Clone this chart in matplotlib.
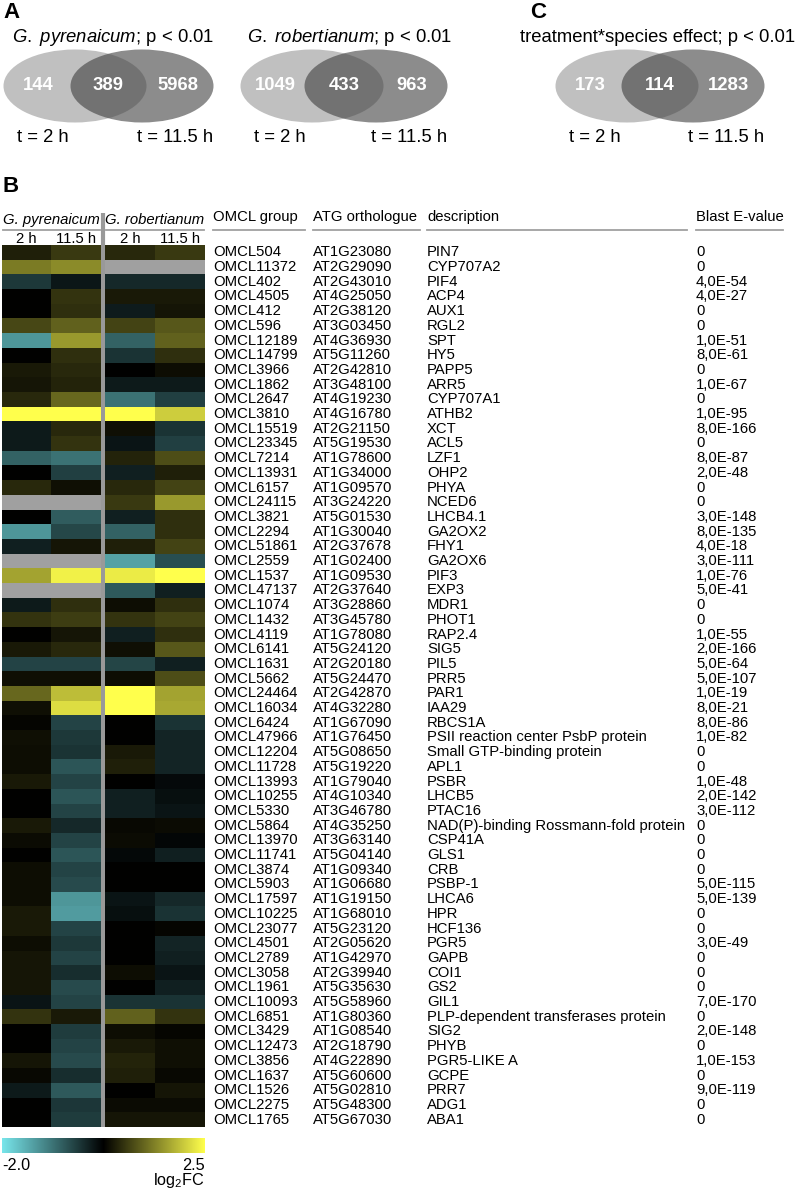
import numpy as np
import matplotlib
matplotlib.use("Agg")
import matplotlib.pyplot as plt
from matplotlib.colors import LinearSegmentedColormap, TwoSlopeNorm
from matplotlib.patches import Ellipse
from matplotlib.transforms import blended_transform_factory

plt.rcParams['font.family'] = ['Liberation Sans', 'DejaVu Sans']
plt.rcParams['mathtext.fontset'] = 'custom'
plt.rcParams['mathtext.rm'] = 'Liberation Sans'
plt.rcParams['mathtext.it'] = 'Liberation Sans:italic'

nan = np.nan

# ---- panel A / C: Venn counts ----
venn_titles = [r'$\it{G.\ pyrenaicum}$; p < 0.01',
               r'$\it{G.\ robertianum}$; p < 0.01',
               'treatment*species effect; p < 0.01']
venn_counts = [(144, 389, 5968), (1049, 433, 963), (173, 114, 1283)]
venn_sets = ['t = 2 h', 't = 11.5 h']

# ---- panel B: table ----
omcl = ['OMCL504', 'OMCL11372', 'OMCL402', 'OMCL4505', 'OMCL412', 'OMCL596', 'OMCL12189',
        'OMCL14799', 'OMCL3966', 'OMCL1862', 'OMCL2647', 'OMCL3810', 'OMCL15519', 'OMCL23345',
        'OMCL7214', 'OMCL13931', 'OMCL6157', 'OMCL24115', 'OMCL3821', 'OMCL2294', 'OMCL51861',
        'OMCL2559', 'OMCL1537', 'OMCL47137', 'OMCL1074', 'OMCL1432', 'OMCL4119', 'OMCL6141',
        'OMCL1631', 'OMCL5662', 'OMCL24464', 'OMCL16034', 'OMCL6424', 'OMCL47966', 'OMCL12204',
        'OMCL11728', 'OMCL13993', 'OMCL10255', 'OMCL5330', 'OMCL5864', 'OMCL13970', 'OMCL11741',
        'OMCL3874', 'OMCL5903', 'OMCL17597', 'OMCL10225', 'OMCL23077', 'OMCL4501', 'OMCL2789',
        'OMCL3058', 'OMCL1961', 'OMCL10093', 'OMCL6851', 'OMCL3429', 'OMCL12473', 'OMCL3856',
        'OMCL1637', 'OMCL1526', 'OMCL2275', 'OMCL1765']
atg = ['AT1G23080', 'AT2G29090', 'AT2G43010', 'AT4G25050', 'AT2G38120', 'AT3G03450', 'AT4G36930',
       'AT5G11260', 'AT2G42810', 'AT3G48100', 'AT4G19230', 'AT4G16780', 'AT2G21150', 'AT5G19530',
       'AT1G78600', 'AT1G34000', 'AT1G09570', 'AT3G24220', 'AT5G01530', 'AT1G30040', 'AT2G37678',
       'AT1G02400', 'AT1G09530', 'AT2G37640', 'AT3G28860', 'AT3G45780', 'AT1G78080', 'AT5G24120',
       'AT2G20180', 'AT5G24470', 'AT2G42870', 'AT4G32280', 'AT1G67090', 'AT1G76450', 'AT5G08650',
       'AT5G19220', 'AT1G79040', 'AT4G10340', 'AT3G46780', 'AT4G35250', 'AT3G63140', 'AT5G04140',
       'AT1G09340', 'AT1G06680', 'AT1G19150', 'AT1G68010', 'AT5G23120', 'AT2G05620', 'AT1G42970',
       'AT2G39940', 'AT5G35630', 'AT5G58960', 'AT1G80360', 'AT1G08540', 'AT2G18790', 'AT4G22890',
       'AT5G60600', 'AT5G02810', 'AT5G48300', 'AT5G67030']
desc = ['PIN7', 'CYP707A2', 'PIF4', 'ACP4', 'AUX1', 'RGL2', 'SPT', 'HY5', 'PAPP5', 'ARR5',
        'CYP707A1', 'ATHB2', 'XCT', 'ACL5', 'LZF1', 'OHP2', 'PHYA', 'NCED6', 'LHCB4.1', 'GA2OX2',
        'FHY1', 'GA2OX6', 'PIF3', 'EXP3', 'MDR1', 'PHOT1', 'RAP2.4', 'SIG5', 'PIL5', 'PRR5',
        'PAR1', 'IAA29', 'RBCS1A', 'PSII reaction center PsbP protein', 'Small GTP-binding protein',
        'APL1', 'PSBR', 'LHCB5', 'PTAC16', 'NAD(P)-binding Rossmann-fold protein', 'CSP41A', 'GLS1',
        'CRB', 'PSBP-1', 'LHCA6', 'HPR', 'HCF136', 'PGR5', 'GAPB', 'COI1', 'GS2', 'GIL1',
        'PLP-dependent transferases protein', 'SIG2', 'PHYB', 'PGR5-LIKE A', 'GCPE', 'PRR7',
        'ADG1', 'ABA1']
evalue = ['0', '0', '4,0E-54', '4,0E-27', '0', '0', '1,0E-51', '8,0E-61', '0', '1,0E-67',
          '0', '1,0E-95', '8,0E-166', '0', '8,0E-87', '2,0E-48', '0', '0', '3,0E-148', '8,0E-135',
          '4,0E-18', '3,0E-111', '1,0E-76', '5,0E-41', '0', '0', '1,0E-55', '2,0E-166', '5,0E-64',
          '5,0E-107', '1,0E-19', '8,0E-21', '8,0E-86', '1,0E-82', '0', '0', '1,0E-48', '2,0E-142',
          '3,0E-112', '0', '0', '0', '0', '5,0E-115', '5,0E-139', '0', '0', '3,0E-49', '0', '0',
          '0', '7,0E-170', '0', '2,0E-148', '0', '1,0E-153', '0', '9,0E-119', '0', '0']

# log2FC per column (NaN = not available)
pyr_2h = [0.3, 1.2, -0.5, 0, 0, 0.7, -1.3, 0, 0.25, 0.2,
          0.4, 2.5, -0.22, -0.22, -0.85, 0, 0.4, nan, 0, -1.3,
          -0.28, nan, 1.6, nan, -0.22, 0.5, 0, 0.25, -0.58, 0.15,
          1.0, 0.15, 0.05, 0.15, 0.12, 0.12, 0.25, 0, 0, 0.25,
          0.1, 0, 0.12, 0.12, 0.12, 0.25, 0.25, 0.12, 0.2, 0.2,
          0.2, -0.18, 0.5, 0, 0, 0.2, 0.08, -0.22, 0, 0]
pyr_11h = [0.55, 1.35, -0.2, 0.5, 0.45, 0.95, 1.5, 0.45, 0.4, 0.35,
           1.0, 2.5, 0.4, 0.5, -1.0, -0.55, 0.15, nan, -0.8, -0.62,
           0.2, nan, 2.35, nan, 0.45, 0.6, 0.2, 0.4, -0.58, 0.15,
           1.85, 2.15, -0.58, -0.5, -0.45, -0.75, -0.58, -0.75, -0.58, -0.35,
           -0.58, -0.75, -0.58, -0.65, -1.3, -1.35, -0.58, -0.5, -0.58, -0.4,
           -0.65, -0.58, 0.25, -0.52, -0.58, -0.65, -0.4, -0.78, -0.48, -0.52]
rob_2h = [0.4, nan, -0.35, 0.25, -0.25, 0.65, -0.85, -0.45, 0, -0.22,
          -1.0, 2.5, 0.15, -0.18, 0.35, -0.28, 0.4, 0.55, -0.28, -0.85,
          0.3, -1.4, 2.3, -0.78, 0.12, 0.5, -0.28, 0.15, -0.6, 0.12,
          2.5, 2.5, 0, 0, 0.25, 0.3, 0, -0.28, -0.28, 0.08,
          0.1, -0.07, 0, 0, -0.18, -0.13, 0, 0, 0, 0.12,
          0, -0.45, 0.95, 0.12, 0.25, 0.35, 0.3, 0, 0.1, 0.2]
rob_11h = [0.55, nan, -0.35, 0.25, 0.2, 0.85, 0.95, 0.45, 0.12, -0.22,
           -0.55, 2.0, -0.45, -0.55, 0.75, 0.3, 0.65, 1.5, 0.45, 0.45,
           0.65, -0.68, 2.5, -0.28, 0.45, 0.65, 0.45, 0.85, -0.28, 0.75,
           1.6, 1.65, -0.45, -0.32, -0.32, -0.32, -0.08, -0.13, -0.18, 0.1,
           -0.05, -0.28, 0, 0, -0.35, -0.45, 0.05, -0.32, -0.28, -0.18,
           -0.28, -0.45, 0.5, 0.05, 0.15, 0.15, 0.08, 0.2, 0.1, 0.2]

species = ['G. pyrenaicum', 'G. robertianum']
times = ['2 h', '11.5 h']
table_cols = ['OMCL group', 'ATG orthologue', 'description', 'Blast E-value']
vmin, vmax = -2.0, 2.5

# ---- figure in pixel units ----
W, H = 797, 1192
fig = plt.figure(figsize=(W / 100, H / 100), dpi=100)
bg = fig.add_axes([0, 0, 1, 1])
bg.set_xlim(0, W)
bg.set_ylim(H, 0)
bg.axis('off')


def px_axes(x0, y0, x1, y1):
    return fig.add_axes([x0 / W, 1 - y1 / H, (x1 - x0) / W, (y1 - y0) / H])


FS = 10.7
VFS = 13.3
GRAY_LINE = '#a0a0a0'

# panel labels
bg.text(3, 12, 'A', fontsize=16, fontweight='bold', va='center')
bg.text(530, 13, 'C', fontsize=16, fontweight='bold', va='center')
bg.text(3, 187, 'B', fontsize=16, fontweight='bold', va='center')

# Venn diagrams: (left ellipse center, right ellipse center, title x, title align)
venn_layout = [(75, 142, 113, 'center'), (312, 376, 350, 'center'), (627, 693, 795, 'right')]
ew, eh, ey = 143, 73, 86
for (cl, cr, tx, tha), title, (a, ab, b) in zip(venn_layout, venn_titles, venn_counts):
    bg.add_patch(Ellipse((cl, ey), ew, eh, facecolor='#c0c0c0', edgecolor='none'))
    bg.add_patch(Ellipse((cr, ey), ew, eh, facecolor='#3f3f3f', alpha=0.6, edgecolor='none'))
    bg.text(tx, 38, title, fontsize=VFS, ha=tha, va='center')
    for x, n in [(cl - 37, a), ((cl + cr) / 2, ab), (cr + 36, b)]:
        bg.text(x, ey, str(n), fontsize=VFS, fontweight='bold', color='white',
                ha='center', va='center')
    bg.text(cl - ew / 2 + 14, 138, venn_sets[0], fontsize=VFS, ha='left', va='center')
    bg.text(cr + ew / 2, 138, venn_sets[1], fontsize=VFS, ha='right', va='center')

# heatmap
cmap = LinearSegmentedColormap.from_list(
    'cyk', [(0.0, (0.47, 0.90, 0.92)), (0.5, (0.0, 0.0, 0.0)), (1.0, (1.0, 1.0, 0.3))])
cmap.set_bad('#a0a0a0')
norm = TwoSlopeNorm(vcenter=0, vmin=vmin, vmax=vmax)

top, bottom = 245, 1127
hm_x = [(2, 101), (105, 205)]
hm_data = [np.column_stack([pyr_2h, pyr_11h]), np.column_stack([rob_2h, rob_11h])]
hm_axes = []
for (x0, x1), data in zip(hm_x, hm_data):
    ax = px_axes(x0, top, x1, bottom)
    ax.imshow(np.ma.masked_invalid(data), cmap=cmap, norm=norm, aspect='auto',
              interpolation='nearest')
    ax.axis('off')
    hm_axes.append(ax)

# separator between species
bg.plot([103, 103], [213, bottom], color='#999999', lw=3.0, solid_capstyle='butt')

# heatmap headers
for (x0, x1), sp in zip(hm_x, species):
    bg.text((x0 + x1) / 2, 220, sp, fontsize=FS, style='italic', ha='center', va='center')
    bg.plot([x0 + 1, x1 - 1], [230, 230], color=GRAY_LINE, lw=1.3)
    cw = (x1 - x0) / 2
    for k, t in enumerate(times):
        bg.text(x0 + cw * (k + 0.5), 239, t, fontsize=FS, ha='center', va='center')

# table columns
col_x = [213, 313, 427, 696]
col_end = [305, 420, 687, 783]
for x, xe, name in zip(col_x, col_end, table_cols):
    bg.text(x, 217, name, fontsize=FS, ha='left', va='center')
    bg.plot([x, xe], [229.5, 229.5], color=GRAY_LINE, lw=1.3)

tr = blended_transform_factory(bg.transData, hm_axes[0].transData)
for i, row in enumerate(zip(omcl, atg, desc, evalue)):
    for x, s in zip(col_x, row):
        bg.text(x, i, s, transform=tr, fontsize=FS, ha='left', va='center')

# colour bar
cax = px_axes(2, 1138, 205, 1153)
cax.imshow(np.linspace(0, 1, 256)[None, :], cmap=cmap, aspect='auto')
cax.axis('off')
bg.text(2, 1165, '%.1f' % vmin, fontsize=FS + 1, ha='left', va='center')
bg.text(205, 1165, '%.1f' % vmax, fontsize=FS + 1, ha='right', va='center')
bg.text(205, 1181, r'log$_2$FC', fontsize=FS + 1, ha='right', va='center')

fig.savefig('out.png', dpi=100)
